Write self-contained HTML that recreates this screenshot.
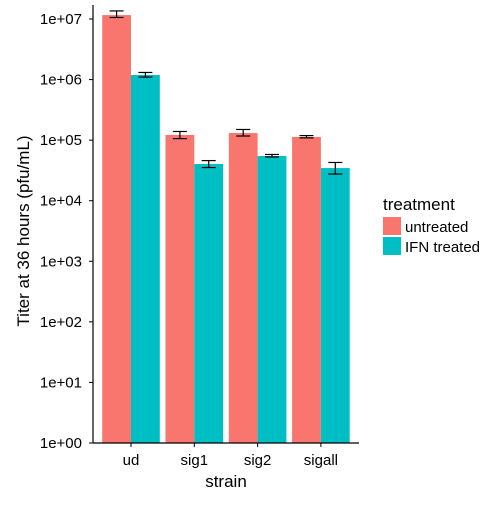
<!DOCTYPE html>
<html><head><meta charset="utf-8"><style>
body{margin:0;background:#fff;}
svg{font-family:"Liberation Sans",sans-serif;}
</style></head><body>
<svg id="c" width="500" height="500" viewBox="0 0 500 500">
<g id="bars"></g>
<g id="axes"></g>
<text x="226" y="487" text-anchor="middle" font-size="17" fill="#000">strain</text>
<text transform="translate(29,231) rotate(-90)" text-anchor="middle" font-size="17" fill="#000">Titer at 36 hours (pfu/mL)</text>
<g>
<text x="383" y="210" font-size="17">treatment</text>
<rect x="383" y="217" width="18" height="18" fill="#F8766D"/>
<text x="405" y="232" font-size="15">untreated</text>
<rect x="383" y="237" width="18" height="18" fill="#00BFC4"/>
<text x="405" y="252" font-size="15">IFN treated</text>
</g>
</svg>
<script>
const categories=["ud","sig1","sig2","sigall"];
const untreated=[1.16e7,1.22e5,1.31e5,1.13e5];
const untreatedLo=[1.06e7,1.06e5,1.17e5,1.09e5];
const untreatedHi=[1.36e7,1.39e5,1.5e5,1.19e5];
const ifn=[1.19e6,4.04e4,5.47e4,3.46e4];
const ifnLo=[1.10e6,3.53e4,5.27e4,2.76e4];
const ifnHi=[1.31e6,4.6e4,5.8e4,4.28e4];
const yTicks=["1e+00","1e+01","1e+02","1e+03","1e+04","1e+05","1e+06","1e+07"];
const NS="http://www.w3.org/2000/svg";
const y0=443,dec=60.57,ax=93;
function y(v){return y0-Math.log10(v)*dec;}
function xc(i){return 131+i*63.3;}
const bw=28.8;
const bars=document.getElementById('bars'),axes=document.getElementById('axes');
function mk(tag,attrs,parent){const e=document.createElementNS(NS,tag);for(const k in attrs)e.setAttribute(k,attrs[k]);parent.appendChild(e);return e;}
const series=[[untreated,untreatedLo,untreatedHi,"#F8766D",-1,"untreated"],[ifn,ifnLo,ifnHi,"#00BFC4",0,"ifn"]];
categories.forEach((c,i)=>{
 series.forEach(s=>{
  const x=xc(i)+s[4]*bw;
  const r=mk('rect',{x:x,y:y(s[0][i]),width:bw,height:y0-y(s[0][i]),fill:s[3]},bars);
  
  
  const cx=x+bw/2,lo=y(s[1][i]),hi=y(s[2][i]);
  const g=mk('g',{stroke:'#000','stroke-width':1.2},bars);
  
  
  mk('line',{x1:cx,x2:cx,y1:lo,y2:hi},g);
  mk('line',{x1:cx-7,x2:cx+7,y1:lo,y2:lo},g);
  mk('line',{x1:cx-7,x2:cx+7,y1:hi,y2:hi},g);
 });
 const tk=mk('line',{x1:xc(i),x2:xc(i),y1:y0,y2:y0+4,stroke:'#000'},axes);
 
 
 const t=mk('text',{x:xc(i),y:y0+22,'text-anchor':'middle','font-size':15},axes);
 t.textContent=c;
 
 
});
yTicks.forEach((l,k)=>{
 const yy=y0-k*dec;
 const tk=mk('line',{x1:ax-4,x2:ax,y1:yy,y2:yy,stroke:'#000'},axes);
 
 
 const t=mk('text',{x:82,y:yy+5,'text-anchor':'end','font-size':15},axes);
 t.textContent=l;
 
 
});
const ya=mk('line',{x1:ax,x2:ax,y1:5,y2:y0,stroke:'#000','stroke-width':1.2},axes);


const xa=mk('line',{x1:ax,x2:359,y1:y0,y2:y0,stroke:'#000','stroke-width':1.2},axes);


</script>
</body></html>
